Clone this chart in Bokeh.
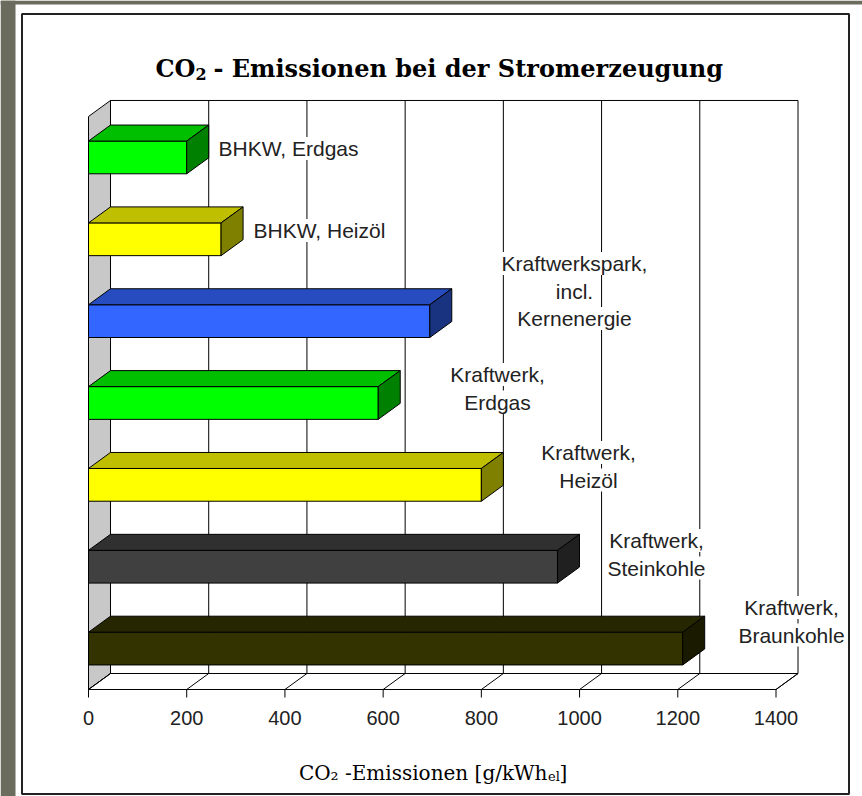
from bokeh.plotting import figure
from bokeh.models import Range1d
from bokeh.core.properties import value
from bokeh.embed import file_html
from bokeh.resources import INLINE

# ---------------- data ----------------
categories = ["BHKW, Erdgas", "BHKW, Heizöl", "Kraftwerkspark, incl. Kernenergie",
              "Kraftwerk, Erdgas", "Kraftwerk, Heizöl", "Kraftwerk, Steinkohle",
              "Kraftwerk, Braunkohle"]
label_lines = [["BHKW, Erdgas"], ["BHKW, Heizöl"],
               ["Kraftwerkspark,", "incl.", "Kernenergie"],
               ["Kraftwerk,", "Erdgas"], ["Kraftwerk,", "Heizöl"],
               ["Kraftwerk,", "Steinkohle"], ["Kraftwerk,", "Braunkohle"]]
emissions = [200, 270, 695, 590, 800, 955, 1210]
x_ticks = [0, 200, 400, 600, 800, 1000, 1200, 1400]
x_tick_labels = ["0", "200", "400", "600", "800", "1000", "1200", "1400"]

front_colors = ["#00ff00", "#ffff00", "#3366ff", "#00ff00", "#ffff00", "#404040", "#333300"]
top_colors = ["#00bf00", "#bfbf00", "#264cbf", "#00bf00", "#bfbf00", "#303030", "#262600"]
side_colors = ["#008000", "#808000", "#1a3380", "#008000", "#808000", "#202020", "#1a1a00"]

# ---------------- layout (pixel geometry of the reference) ----------------
W, H = 862, 796
X0_PX, X1400_PX = 88, 775.5
SX = (X1400_PX - X0_PX) / 1400.0       # px per g/kWh
FLOOR_PX = 689
SY = 81.86                              # px per category slot
N = len(categories)

def rx(px):
    return (px - X0_PX) / SX

def ry(py):
    return (FLOOR_PX - py) / SY

DX = 22 / SX
DY = 16 / SY
XMAX = 1400
BAR_LO, BAR_HI = 0.3, 0.7

p = figure(width=W, height=H, output_backend="svg", toolbar_location=None,
           x_range=Range1d(rx(0), rx(W)), y_range=Range1d(ry(H), ry(0)),
           x_axis_location=None, y_axis_location=None,
           min_border=0, min_border_left=0, min_border_right=0,
           min_border_top=0, min_border_bottom=0)
p.grid.visible = False
p.outline_line_color = None
p.background_fill_color = "white"
p.border_fill_color = "white"

# outer strips and frame
p.quad(left=rx(0), right=rx(15), bottom=ry(796), top=ry(0),
       fill_color="#6b6b5e", line_color=None)
p.quad(left=rx(0), right=rx(862), bottom=ry(4), top=ry(0),
       fill_color="#6b6b5e", line_color=None)
p.quad(left=rx(21.5), right=rx(848.5), bottom=ry(793.5), top=ry(13.5),
       fill_color=None, line_color="#222222", line_width=2)

# side wall
top_y = N
p.patch([0, 0, DX, DX], [0, top_y, top_y + DY, DY],
        fill_color="#c8c8c8", line_color="black", line_width=1)

# floor
p.patch([0, XMAX, XMAX + DX, DX], [0, 0, DY, DY],
        fill_color="white", line_color="black", line_width=1)
p.segment(x0=[t for t in x_ticks], y0=[0] * len(x_ticks),
          x1=[t + DX for t in x_ticks], y1=[DY] * len(x_ticks),
          line_color="black", line_width=1)

# back wall gridlines
p.segment(x0=[t + DX for t in x_ticks], y0=[DY] * len(x_ticks),
          x1=[t + DX for t in x_ticks], y1=[top_y + DY] * len(x_ticks),
          line_color="black", line_width=1)
p.segment(x0=[DX], y0=[top_y + DY], x1=[XMAX + DX], y1=[top_y + DY],
          line_color="black", line_width=1)

# data labels (white background hides gridlines)
label_pos = [("left", 218, 148), ("left", 253, 230), ("center", 574, 263),
             ("center", 497, 374), ("center", 588, 452), ("center", 656, 540),
             ("center", 791, 607)]
LINE_H = 27.5
for lines, (align, lx, ly) in zip(label_lines, label_pos):
    xs = [rx(lx)] * len(lines)
    ys = [ry(ly + k * LINE_H) for k in range(len(lines))]
    p.text(x=xs, y=ys, text=lines, text_align=align, text_baseline="middle",
           text_font=value("Liberation Sans"), text_font_size="21px",
           text_color="#222222", background_fill_color="white")

# bars (3D)
for i, v in enumerate(emissions):
    slot = N - 1 - i
    lo, hi = slot + BAR_LO, slot + BAR_HI
    p.patch([0, v, v, 0], [lo, lo, hi, hi], fill_color=front_colors[i],
            line_color="black", line_width=1)
    p.patch([0, v, v + DX, DX], [hi, hi, hi + DY, hi + DY], fill_color=top_colors[i],
            line_color="black", line_width=1)
    p.patch([v, v + DX, v + DX, v], [lo, lo + DY, hi + DY, hi], fill_color=side_colors[i],
            line_color="black", line_width=1)

# front axis ticks and labels
p.segment(x0=x_ticks, y0=[0] * len(x_ticks), x1=x_ticks, y1=[ry(697)] * len(x_ticks),
          line_color="black", line_width=1)
p.text(x=x_ticks, y=[ry(717)] * len(x_ticks), text=x_tick_labels,
       text_align="center", text_baseline="middle",
       text_font=value("Liberation Sans"), text_font_size="20px", text_color="#222222")

# title: "CO" + subscript "2" + rest
TF = value("DejaVu Serif")
p.text(x=[rx(195)], y=[ry(68)], text=["CO"], text_align="right", text_baseline="alphabetic",
       text_font=TF, text_font_style="bold", text_font_size="24px", text_color="black")
p.text(x=[rx(195)], y=[ry(73)], text=["2"], text_align="left", text_baseline="alphabetic",
       text_font=TF, text_font_style="bold", text_font_size="16px", text_color="black")
p.text(x=[rx(213)], y=[ry(68)], text=["- Emissionen bei der Stromerzeugung"],
       text_align="left", text_baseline="alphabetic",
       text_font=TF, text_font_style="bold", text_font_size="24px", text_color="black")

# x axis title with subscript
p.text(x=[rx(547)], y=[ry(772)], text=["CO₂ -Emissionen [g/kWh"],
       text_align="right", text_baseline="alphabetic",
       text_font=TF, text_font_size="20px", text_color="black")
p.text(x=[rx(547.5)], y=[ry(776)], text=["el"],
       text_align="left", text_baseline="alphabetic",
       text_font=TF, text_font_size="13px", text_color="black")
p.text(x=[rx(559)], y=[ry(772)], text=["]"],
       text_align="left", text_baseline="alphabetic",
       text_font=TF, text_font_size="20px", text_color="black")

open("out.html", "w").write(file_html(p, INLINE))
